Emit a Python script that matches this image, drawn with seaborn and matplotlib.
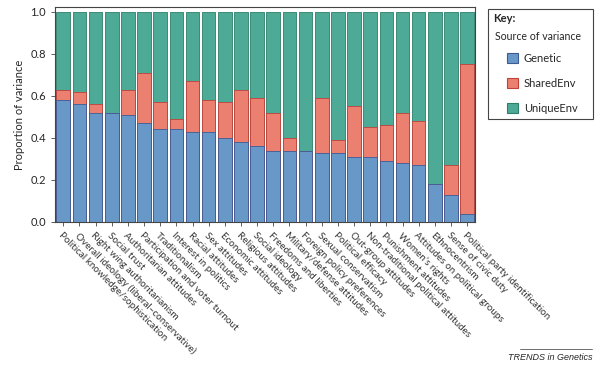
import numpy as np
import pandas as pd
import matplotlib.pyplot as plt
import seaborn as sns
from matplotlib.patches import Patch, Rectangle
from matplotlib.lines import Line2D

# -------------------
# Data
traits = [
    "Political knowledge/sophistication",
    "Overall ideology (liberal\u2013conservative)",
    "Right wing authoritarianism",
    "Social trust",
    "Authoritarian attitudes",
    "Participation and voter turnout",
    "Traditionalism",
    "Interest in politics",
    "Racial attitudes",
    "Sex attitudes",
    "Economic attitudes",
    "Religious attitudes",
    "Social ideology",
    "Freedoms and liberties",
    "Military/defense attitudes",
    "Foreign policy preferences",
    "Sexual conservatism",
    "Political efficacy",
    "Out-group attitudes",
    "Non-traditional political attitudes",
    "Punishment attitudes",
    "Women\u2019s rights",
    "Attitudes on political groups",
    "Ethnocentrism",
    "Sense of civic duty",
    "Political party identification",
]
genetic = [0.58, 0.56, 0.52, 0.52, 0.51, 0.47, 0.44, 0.44, 0.43, 0.43, 0.40, 0.38, 0.36,
           0.34, 0.34, 0.34, 0.33, 0.33, 0.31, 0.31, 0.29, 0.28, 0.27, 0.18, 0.13, 0.04]
shared_env = [0.05, 0.06, 0.04, 0.00, 0.12, 0.24, 0.13, 0.05, 0.24, 0.15, 0.17, 0.25, 0.23,
              0.18, 0.06, 0.00, 0.26, 0.06, 0.24, 0.14, 0.17, 0.24, 0.21, 0.00, 0.14, 0.71]
unique_env = [0.37, 0.38, 0.44, 0.48, 0.37, 0.29, 0.43, 0.51, 0.33, 0.42, 0.43, 0.37, 0.41,
              0.48, 0.60, 0.66, 0.41, 0.61, 0.45, 0.55, 0.54, 0.48, 0.52, 0.82, 0.73, 0.25]

df = pd.DataFrame({"trait": traits, "Genetic": genetic,
                   "SharedEnv": shared_env, "UniqueEnv": unique_env})
df["g_s"] = df["Genetic"] + df["SharedEnv"]
df["total"] = df["g_s"] + df["UniqueEnv"]

colors = {"Genetic": ("#6898C8", "#3E5A96"),
          "SharedEnv": ("#EC8070", "#C0403A"),
          "UniqueEnv": ("#4CAA96", "#2E7E6A")}

# -------------------
sns.set_style("ticks")
plt.rcParams["font.family"] = ["Lato", "DejaVu Sans"]

fig = plt.figure(figsize=(6, 3.75), dpi=100)
ax = fig.add_axes([0.092, 0.408, 0.70, 0.573])

# stacked bars drawn as cumulative layers
for col, key in [("total", "UniqueEnv"), ("g_s", "SharedEnv"), ("Genetic", "Genetic")]:
    sns.barplot(data=df, x="trait", y=col, order=traits, color=colors[key][0],
                edgecolor=colors[key][1], linewidth=0.6, width=0.84,
                saturation=1, ax=ax)

ax.set_xlim(-0.5, len(traits) - 0.5)
ax.set_ylim(0, 1.022)
ax.set_yticks(np.arange(0, 1.01, 0.2))
ax.set_yticklabels([f"{v:.1f}" for v in np.arange(0, 1.01, 0.2)], fontsize=8)
ax.set_ylabel("Proportion of variance", fontsize=8)
ax.set_xlabel("")
ax.set_xticks(range(len(traits)))
ax.set_xticklabels(traits, rotation=-45, ha="left", rotation_mode="anchor",
                   fontsize=7.1, color="#333333")
ax.tick_params(axis="both", length=3, width=0.6, color="#444444")
for s in ax.spines.values():
    s.set_linewidth(0.8)
    s.set_color("#444444")

# -------------------
# Key box: frame + "Key:" + subtitle + legend entries
fig.add_artist(Rectangle((488 / 600, 1 - 119 / 375), 105 / 600, 110 / 375,
                         transform=fig.transFigure, facecolor="white",
                         edgecolor="#444444", linewidth=0.8, zorder=1))
fig.text(493 / 600, 1 - 19 / 375, "Key:", fontsize=8, fontweight="bold",
         va="center", ha="left", zorder=5)
fig.text(538 / 600, 1 - 36 / 375, "Source of variance", fontsize=7.6,
         va="center", ha="center", zorder=5)
handles = [Patch(facecolor=colors[k][0], edgecolor=colors[k][1], linewidth=0.8)
           for k in ["Genetic", "SharedEnv", "UniqueEnv"]]
leg = fig.legend(handles, ["Genetic", "SharedEnv", "UniqueEnv"],
                 loc="upper left", bbox_to_anchor=(507 / 600, 1 - 53 / 375),
                 borderaxespad=0, fontsize=8, handlelength=1.0, handleheight=1.0,
                 handletextpad=0.5, labelspacing=1.27, borderpad=0, frameon=False)
leg.set_zorder(5)

# journal footer
fig.add_artist(Line2D([520 / 600, 592 / 600], [1 - 349 / 375, 1 - 349 / 375],
                      color="#555555", linewidth=0.6))
fig.text(592 / 600, 1 - 358 / 375, "TRENDS in Genetics", fontsize=6.5,
         style="italic", ha="right", va="center", family="Liberation Sans")

fig.savefig("out.png", dpi=100)
